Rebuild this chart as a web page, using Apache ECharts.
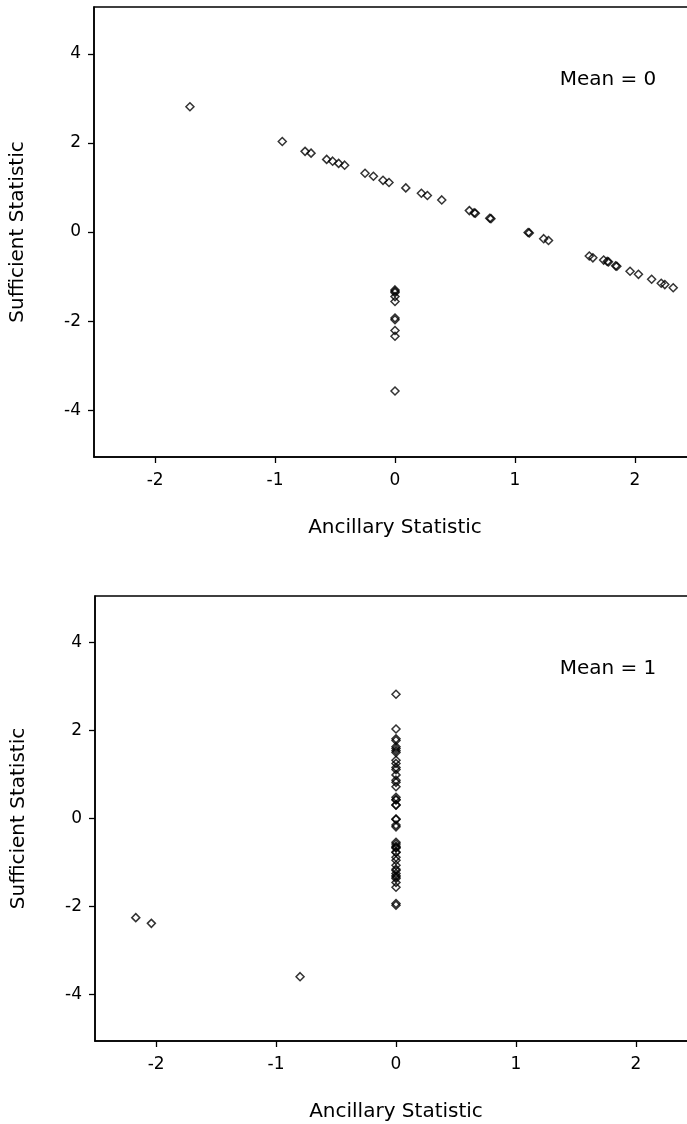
<!DOCTYPE html>
<html>
<head>
<meta charset="utf-8">
<script src="https://cdn.jsdelivr.net/npm/echarts@6/dist/echarts.min.js"></script>
<style>
  html, body { margin: 0; padding: 0; background: #fff; }
  #chart { width: 687px; height: 1124px; }
</style>
</head>
<body>
<div id="chart"></div>
<script>
// Mean = 0 panel
const mean0Ancillary = [
  -1.71, -0.94, -0.75, -0.70, -0.57, -0.52, -0.47, -0.42, -0.25, -0.18,
  -0.10, -0.05, 0.09, 0.22, 0.27, 0.39, 0.62, 0.66, 0.67, 0.79, 0.80,
  1.11, 1.12, 1.24, 1.28, 1.62, 1.65, 1.74, 1.77, 1.78, 1.84, 1.85,
  1.96, 2.03, 2.14, 2.22, 2.25, 2.32,
  0, 0, 0, 0, 0, 0, 0, 0, 0, 0
]
const mean0Sufficient = [
  2.81, 2.03, 1.81, 1.77, 1.63, 1.59, 1.54, 1.50, 1.32, 1.25,
  1.16, 1.11, 0.99, 0.87, 0.82, 0.72, 0.48, 0.43, 0.42, 0.31, 0.30,
  -0.01, -0.02, -0.15, -0.19, -0.54, -0.58, -0.63, -0.66, -0.67, -0.76, -0.77,
  -0.88, -0.95, -1.06, -1.15, -1.18, -1.25,
  -1.30, -1.33, -1.36, -1.45, -1.56, -1.93, -1.97, -2.21, -2.34, -3.57
]

// Mean = 1 panel
const mean1Ancillary = [
  0, 0, 0, 0, 0, 0, 0, 0, 0, 0, 0, 0, 0, 0, 0, 0, 0, 0, 0, 0, 0, 0, 0,
  0, 0, 0, 0, 0, 0, 0, 0, 0, 0, 0, 0, 0, 0, 0, 0, 0, 0, 0, 0, 0, 0,
  -2.17, -2.04, -0.80
]
const mean1Sufficient = [
  2.82, 2.03, 1.81, 1.77, 1.63, 1.59, 1.54, 1.50, 1.32, 1.25, 1.16, 1.11,
  0.99, 0.87, 0.82, 0.72, 0.48, 0.43, 0.42, 0.31, 0.30, -0.01, -0.02,
  -0.15, -0.19, -0.54, -0.58, -0.63, -0.66, -0.67, -0.76, -0.77, -0.88,
  -0.95, -1.06, -1.15, -1.18, -1.25, -1.30, -1.33, -1.36, -1.45, -1.56,
  -1.93, -1.97,
  -2.25, -2.38, -3.59
]

const xTicks = [-2, -1, 0, 1, 2]
const yTicks = [-4, -2, 0, 2, 4]
const panelLabels = ['Mean = 0', 'Mean = 1']

const font = 'DejaVu Sans'
const zip = (xs, ys) => xs.map((x, i) => [x, ys[i]])

function xAxisFor(idx) {
  return {
    type: 'value', gridIndex: idx, min: -2.51, max: 2.51,
    name: 'Ancillary Statistic', nameLocation: 'middle', nameGap: 61,
    nameTextStyle: { fontFamily: font, fontSize: 20, color: '#000' },
    axisLine: { onZero: false, lineStyle: { color: '#000', width: 1.6 } },
    axisTick: { customValues: xTicks, length: 6, lineStyle: { color: '#000', width: 1.3 } },
    axisLabel: { customValues: xTicks, margin: 15, fontFamily: font, fontSize: 17, color: '#000' },
    splitLine: { show: false }
  }
}
function yAxisFor(idx) {
  return {
    type: 'value', gridIndex: idx, min: -5.05, max: 5.05,
    name: 'Sufficient Statistic', nameLocation: 'middle', nameGap: 66,
    nameTextStyle: { fontFamily: font, fontSize: 20, color: '#000' },
    axisLine: { onZero: false, lineStyle: { color: '#000', width: 1.6 } },
    axisTick: { customValues: yTicks, length: 6, lineStyle: { color: '#000', width: 1.3 } },
    axisLabel: { customValues: yTicks, margin: 13, fontFamily: font, fontSize: 17, color: '#000' },
    splitLine: { show: false }
  }
}
function seriesFor(idx, data) {
  return {
    type: 'scatter', xAxisIndex: idx, yAxisIndex: idx, data,
    symbol: 'diamond', symbolSize: 8,
    itemStyle: { color: 'rgba(0,0,0,0)', borderColor: '#000', borderWidth: 1.5 },
    emphasis: { disabled: true }
  }
}

const chart = echarts.init(document.getElementById('chart'))
chart.setOption({
  animation: false,
  backgroundColor: '#fff',
  grid: [
    { left: 94, top: 7, height: 450, width: 602, outerBoundsMode: 'none', show: true, borderColor: '#000', borderWidth: 1.4 },
    { left: 95, top: 596, height: 445, width: 602, outerBoundsMode: 'none', show: true, borderColor: '#000', borderWidth: 1.4 }
  ],
  xAxis: [xAxisFor(0), xAxisFor(1)],
  yAxis: [yAxisFor(0), yAxisFor(1)],
  series: [
    seriesFor(0, zip(mean0Ancillary, mean0Sufficient)),
    seriesFor(1, zip(mean1Ancillary, mean1Sufficient))
  ],
  graphic: [
    { type: 'text', x: 608, y: 80, style: { text: panelLabels[0], font: '20px "DejaVu Sans"', fill: '#000', textAlign: 'center', textVerticalAlign: 'middle' } },
    { type: 'text', x: 608, y: 669, style: { text: panelLabels[1], font: '20px "DejaVu Sans"', fill: '#000', textAlign: 'center', textVerticalAlign: 'middle' } }
  ]
})
</script>
</body>
</html>
